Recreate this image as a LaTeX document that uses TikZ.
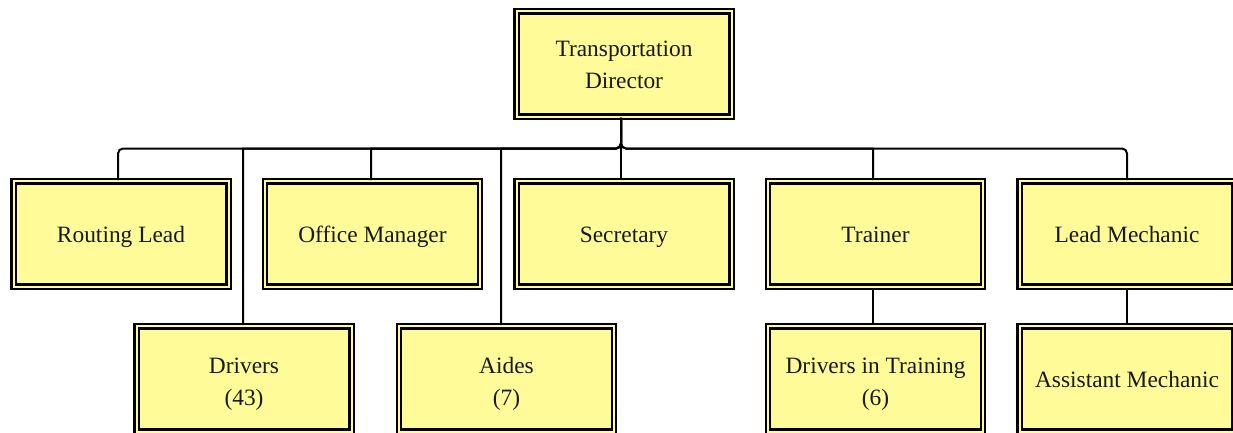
\documentclass[tikz,border=0pt]{standalone}
\usepackage{fontspec}
\setmainfont{Liberation Serif}
\definecolor{boxyellow}{HTML}{FFFB98}
\newcommand\topstrut[1]{\rule[-9.45pt]{0pt}{\dimexpr #1pt+9.45pt\relax}}
\begin{document}
\begin{tikzpicture}[x=1pt,y=-1pt,
  box/.style={draw=black, line width=2.4pt, double=boxyellow, double distance=2pt,
    fill=boxyellow, minimum width=215pt, minimum height=105.2pt, inner sep=0pt,
    align=center, text=black!90, font=\fontsize{23.4}{31.5}\selectfont},
  conn/.style={draw=black, line width=2pt, rounded corners=5pt}]
\useasboundingbox (0,0) rectangle (1233,432);
% nodes
\node[box] (dir) at (624,64) {Transportation\topstrut{26}\\Director\strut};
\node[box] (rout) at (121,234) {Routing Lead\topstrut{26}};
\node[box] (off) at (372.5,234) {Office Manager\topstrut{26}};
\node[box] (sec) at (624,234) {Secretary\topstrut{26}};
\node[box] (tra) at (875.5,234) {Trainer\topstrut{26}};
\node[box] (lm) at (1127,234) {Lead Mechanic\topstrut{26}};
\node[box] (drv) at (244,379) {Drivers\topstrut{30}\\(43)\strut};
\node[box] (aid) at (506.5,379) {Aides\topstrut{30}\\(7)\strut};
\node[box] (dit) at (875.5,379) {Drivers in Training\topstrut{30}\\(6)\strut};
\node[box] (am) at (1127,379) {Assistant Mechanic\topstrut{26}};
% bus coordinates
\coordinate (hub) at (621,148.5);
\coordinate (b1) at (118,148.5);
\coordinate (b2) at (243,148.5);
\coordinate (b3) at (371,148.5);
\coordinate (b4) at (501,148.5);
\coordinate (b6) at (873,148.5);
\coordinate (b7) at (1127,148.5);
% connectors
\draw[conn] (dir.south -| hub) -- (hub) -- (b1) -- (rout.north -| b1);
\draw[conn] (dir.south -| hub) -- (hub) [sharp corners] -- (b2) -- (drv.north -| b2);
\draw[conn] (dir.south -| hub) -- (hub) [sharp corners] -- (b3) -- (off.north -| b3);
\draw[conn] (dir.south -| hub) -- (hub) [sharp corners] -- (b4) -- (aid.north -| b4);
\draw[conn] (dir.south -| hub) -- (sec.north -| hub);
\draw[conn] (dir.south -| hub) -- (hub) [sharp corners] -- (b6) -- (tra.north -| b6);
\draw[conn] (dir.south -| hub) -- (hub) -- (b7) -- (lm.north -| b7);
\draw[conn] (tra.south -| b6) -- (dit.north -| b6);
\draw[conn] (lm.south -| b7) -- (am.north -| b7);
\end{tikzpicture}
\end{document}
